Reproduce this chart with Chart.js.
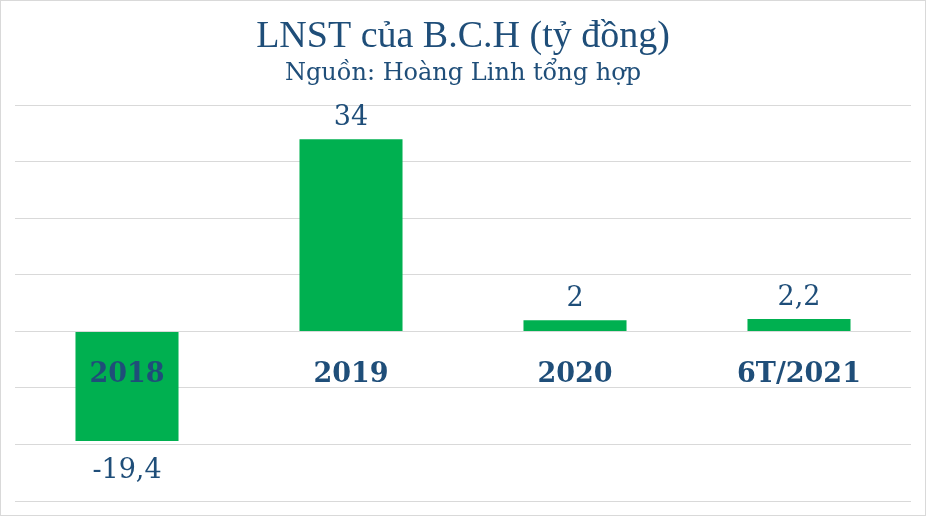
<!DOCTYPE html>
<html>
<head>
<meta charset="utf-8">
<script src="https://cdn.jsdelivr.net/npm/chart.js@4"></script>
<style>
  html, body { margin: 0; padding: 0; background: #fff; }
  #wrap { width: 926px; height: 516px; box-sizing: border-box; border: 1px solid #D9D9D9; position: relative; }
</style>
</head>
<body>
<div id="wrap"><canvas id="c"></canvas></div>
<script>
const categories = ['2018', '2019', '2020', '6T/2021'];
const profitValues = [-19.4, 34, 2, 2.2];
const axisMin = -30;
const axisMax = 40;
const axisStep = 10;
const titleText = 'LNST của B.C.H (tỷ đồng)';
const subtitleText = 'Nguồn: Hoàng Linh tổng hợp';

const SERIF = '"Liberation Serif", "DejaVu Serif", serif';
const WIDE_SERIF = '"DejaVu Serif", "Liberation Serif", serif';
const TEXT_COLOR = '#1F4E79';
const BAR_COLOR = '#00B050';

function fmt(v) { return String(v).replace('.', ','); }

const valueLabels = {
  id: 'valueLabels',
  afterDatasetsDraw(chart) {
    const ctx = chart.ctx;
    const meta = chart.getDatasetMeta(0);
    const data = chart.data.datasets[0].data;
    ctx.save();
    ctx.font = '27px ' + WIDE_SERIF;
    ctx.fillStyle = TEXT_COLOR;
    ctx.textAlign = 'center';
    ctx.textBaseline = 'middle';
    meta.data.forEach((bar, i) => {
      const v = data[i];
      const y = v >= 0 ? bar.y - 21 : bar.y + 30;
      ctx.fillText(fmt(v), bar.x, y);
    });
    ctx.restore();
  }
};

new Chart(document.getElementById('c'), {
  type: 'bar',
  data: {
    labels: categories,
    datasets: [{
      data: profitValues,
      backgroundColor: BAR_COLOR,
      borderWidth: 0,
      categoryPercentage: 1,
      barPercentage: 0.46
    }]
  },
  options: {
    responsive: true,
    maintainAspectRatio: false,
    animation: false,
    layout: { padding: { left: 14, right: 14, top: 0, bottom: 14 } },
    plugins: {
      legend: { display: false },
      tooltip: { enabled: false },
      title: {
        display: true,
        text: titleText,
        color: TEXT_COLOR,
        font: { family: SERIF, size: 38, weight: 'normal' },
        padding: { top: 13, bottom: 0 }
      },
      subtitle: {
        display: true,
        text: subtitleText,
        color: TEXT_COLOR,
        font: { family: WIDE_SERIF, size: 24, weight: 'normal' },
        padding: { top: 0, bottom: 17 }
      }
    },
    scales: {
      x: {
        position: { y: 0 },
        z: 1,
        grid: { display: false, drawTicks: false },
        border: { display: false },
        ticks: {
          z: 1,
          color: TEXT_COLOR,
          font: { family: WIDE_SERIF, size: 27, weight: 'bold' },
          padding: 27
        }
      },
      y: {
        min: axisMin,
        max: axisMax,
        grid: { color: '#D9D9D9', lineWidth: 1, drawTicks: false },
        border: { display: false },
        ticks: { display: false, stepSize: axisStep }
      }
    }
  },
  plugins: [valueLabels]
});
</script>
</body>
</html>
